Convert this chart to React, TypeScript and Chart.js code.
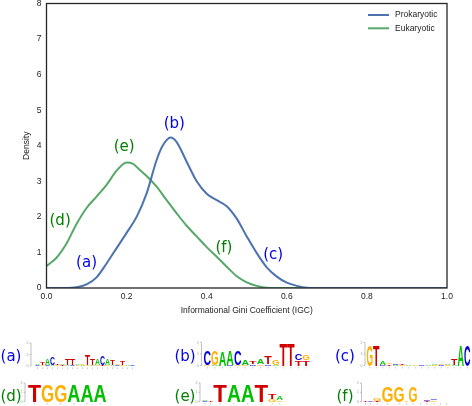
import React, { useEffect, useRef } from "react";
import { Chart, registerables } from "chart.js";

Chart.register(...registerables);

// ---------- data ----------
const prokX = [0.0, 0.05, 0.075, 0.1, 0.125, 0.15, 0.175, 0.2, 0.225, 0.25, 0.275, 0.29, 0.31, 0.325, 0.35, 0.375, 0.4, 0.425, 0.45, 0.475, 0.5, 0.525, 0.55, 0.575, 0.6, 0.625, 0.65, 0.7, 1.0];
const prokY = [0.0, 0.0, 0.02, 0.1, 0.3, 0.69, 1.12, 1.55, 2.0, 2.66, 3.6, 4.0, 4.23, 4.1, 3.55, 3.0, 2.65, 2.47, 2.3, 1.95, 1.45, 0.98, 0.58, 0.32, 0.15, 0.06, 0.01, 0.0, 0.0];

const eukX = [0.0, 0.025, 0.05, 0.075, 0.1, 0.125, 0.15, 0.175, 0.2, 0.215, 0.233, 0.25, 0.275, 0.3, 0.325, 0.35, 0.375, 0.4, 0.425, 0.45, 0.475, 0.5, 0.525, 0.55, 0.6, 1.0];
const eukY = [0.62, 0.85, 1.25, 1.8, 2.25, 2.57, 2.9, 3.3, 3.53, 3.5, 3.32, 3.15, 2.85, 2.47, 2.1, 1.75, 1.45, 1.15, 0.88, 0.6, 0.33, 0.16, 0.06, 0.01, 0.0, 0.0];

const seriesNames = ["Prokaryotic", "Eukaryotic"];
const xTicks = [0, 0.2, 0.4, 0.6, 0.8, 1.0];
const yTicks = [0, 1, 2, 3, 4, 5, 6, 7, 8];

// annotation labels: [text, x, y, series index]
const annotations: [string, number, number, number][] = [
  ["(a)", 0.1, 0.69, 0],
  ["(b)", 0.319, 4.6, 0],
  ["(c)", 0.566, 0.93, 0],
  ["(d)", 0.034, 1.89, 1],
  ["(e)", 0.194, 3.97, 1],
  ["(f)", 0.443, 1.12, 1],
];

// sequence logos: columns of [base, bits] stacked bottom -> top
type Col = [string, number][];
const logoA: Col[] = [
  [["C", 0.09], ["A", 0.09]],
  [["G", 0.09], ["T", 0.26]],
  [["C", 0.09], ["A", 0.6]],
  [["A", 0.09], ["C", 0.7]],
  [["G", 0.09], ["T", 0.13]],
  [["T", 0.09], ["A", 0.13]],
  [["A", 0.09], ["T", 0.52]],
  [["C", 0.09], ["T", 0.56]],
  [["G", 0.09], ["A", 0.13]],
  [["A", 0.09], ["G", 0.13]],
  [["G", 0.09], ["T", 0.87]],
  [["A", 0.09], ["T", 0.6]],
  [["G", 0.09], ["A", 0.6]],
  [["T", 0.09], ["C", 0.78]],
  [["G", 0.09], ["A", 0.52]],
  [["A", 0.09], ["T", 0.43]],
  [["C", 0.09], ["G", 0.13]],
  [["G", 0.09], ["T", 0.35]],
  [["A", 0.09]],
  [["C", 0.07]],
];
const logoB: Col[] = [
  [["G", 0.08], ["C", 1.22]],
  [["A", 0.06], ["G", 1.22]],
  [["A", 1.22]],
  [["C", 0.06], ["A", 1.22]],
  [["G", 0.06], ["C", 1.22]],
  [["G", 0.08], ["A", 0.5]],
  [["C", 0.1], ["T", 0.25]],
  [["G", 0.1], ["A", 0.45]],
  [["C", 0.1], ["T", 0.7]],
  [["A", 0.06], ["G", 0.45]],
  [["T", 1.9]],
  [["T", 1.9]],
  [["T", 0.45], ["C", 0.52]],
  [["T", 0.5], ["G", 0.45]],
];
const logoC: Col[] = [
  [["G", 1.83]],
  [["T", 1.78]],
  [["C", 0.08], ["A", 0.35]],
  [["T", 0.1], ["G", 0.15]],
  [["A", 0.08], ["C", 0.15]],
  [["G", 0.08], ["T", 0.12]],
  [["A", 0.06]],
  [["G", 0.06]],
  [["C", 0.06]],
  [["A", 0.06]],
  [["G", 0.08], ["A", 0.08]],
  [["C", 0.06], ["G", 0.1]],
  [["G", 0.08], ["A", 0.1]],
  [["A", 0.06], ["T", 0.62]],
  [["A", 1.85]],
  [["C", 1.85]],
];
const logoD: Col[] = [
  [["T", 1.9]],
  [["G", 1.9]],
  [["G", 1.9]],
  [["A", 1.9]],
  [["A", 1.9]],
  [["A", 1.9]],
];
const logoE: Col[] = [
  [["C", 0.08], ["A", 0.06]],
  [["T", 0.16]],
  [["T", 1.8]],
  [["A", 1.8]],
  [["A", 1.8]],
  [["T", 1.8]],
  [["G", 0.25], ["T", 0.55]],
  [["G", 0.18], ["A", 0.4]],
];
const logoF: Col[] = [
  [["T", 0.1]],
  [["C", 0.06]],
  [["T", 0.08], ["G", 0.3]],
  [["G", 1.75]],
  [["G", 1.75]],
  [["G", 0.16]],
  [["G", 1.75]],
  [["A", 0.05]],
  [["T", 0.1], ["C", 0.1]],
  [["G", 0.12], ["C", 0.08]],
  [["A", 0.05]],
  [["C", 0.05]],
];

// ---------- styles / layout ----------
const LINE_COLORS = ["#4c72b0", "#55a868"];
const LABEL_COLORS = ["#0000ee", "#008000"];
const BASE_COLORS: Record<string, string> = { A: "#00c000", C: "#0000d8", G: "#ffb000", T: "#d00000" };
const TEXT = "#222222";
const TICK_FONT = "Liberation Sans";

type LogoLayout = { label: string; color: string; lx: number; ly: number; axisX: number; x: number; base: number; pxPerBit: number; widths: number | number[]; data: Col[] };
const logos: LogoLayout[] = [
  { label: "(a)", color: LABEL_COLORS[0], lx: 11, ly: 356, axisX: 31, x: 35, base: 366, pxPerBit: 11.5, widths: 5, data: logoA },
  { label: "(b)", color: LABEL_COLORS[0], lx: 185, ly: 356, axisX: 201.5, x: 203.5, base: 365.5, pxPerBit: 11.5, widths: 7.6, data: logoB },
  { label: "(c)", color: LABEL_COLORS[0], lx: 345, ly: 356, axisX: 365, x: 366.5, base: 365.5, pxPerBit: 11.5, widths: 6.5, data: logoC },
  { label: "(d)", color: LABEL_COLORS[1], lx: 11, ly: 396, axisX: 25, x: 28, base: 401.5, pxPerBit: 9.25, widths: 13.1, data: logoD },
  { label: "(e)", color: LABEL_COLORS[1], lx: 185, ly: 396, axisX: 200, x: 202, base: 401.5, pxPerBit: 9.25, widths: [6, 5.3, 13.6, 14, 13.6, 13.6, 8.4, 6.5], data: logoE },
  { label: "(f)", color: LABEL_COLORS[1], lx: 345, ly: 396, axisX: 361.5, x: 363, base: 401.5, pxPerBit: 9.25, widths: [5, 5, 8.5, 12, 11, 4, 9, 6, 7, 7, 6, 6], data: logoF },
];

function Logo({ L }: { L: LogoLayout }) {
  const F = 20;
  const cap = 0.716 * F;
  const items: React.ReactNode[] = [];
  let cx = L.x;
  L.data.forEach((col, i) => {
    const w = Array.isArray(L.widths) ? L.widths[i] : L.widths;
    let y = L.base;
    col.forEach(([b, bits], j) => {
      const h = bits * L.pxPerBit;
      items.push(
        <text
          key={`${i}-${j}`}
          x={0}
          y={0}
          fontSize={F}
          fontFamily="Liberation Sans, Arial, sans-serif"
          fontWeight="bold"
          fill={BASE_COLORS[b]}
          textLength={w}
          lengthAdjust="spacingAndGlyphs"
          transform={`translate(${cx},${y}) scale(1,${h / cap})`}
        >
          {b}
        </text>
      );
      y -= h;
    });
    items.push(<line key={`t${i}`} x1={cx + w / 2} x2={cx + w / 2} y1={L.base + 1.5} y2={L.base + 3} stroke="#aaa" strokeWidth={0.6} />);
    cx += w;
  });
  const top = L.base - 2 * L.pxPerBit;
  return (
    <g>
      <text x={L.lx} y={L.ly} fontFamily="DejaVu Sans" fontSize={15} fill={L.color} textAnchor="middle" dominantBaseline="central">
        {L.label}
      </text>
      <line x1={L.axisX} x2={L.axisX} y1={top} y2={L.base} stroke="#999" strokeWidth={0.6} />
      {[0, 1, 2].map((k) => (
        <g key={k}>
          <line x1={L.axisX - 1.5} x2={L.axisX} y1={L.base - k * L.pxPerBit} y2={L.base - k * L.pxPerBit} stroke="#999" strokeWidth={0.6} />
          <text x={L.axisX - 2.5} y={L.base - k * L.pxPerBit + 1.2} fontSize={3.5} fill="#999" textAnchor="end" fontFamily="Liberation Sans">
            {k}
          </text>
        </g>
      ))}
      {items}
    </g>
  );
}

const decorPlugin = {
  id: "decor",
  afterDraw(chart: any) {
    const ctx = chart.ctx as CanvasRenderingContext2D;
    const a = chart.chartArea;
    const xs = chart.scales.x;
    const ys = chart.scales.y;
    ctx.save();
    // frame
    ctx.strokeStyle = "#262626";
    ctx.lineWidth = 1.3;
    ctx.strokeRect(a.left, a.top, a.right - a.left, a.bottom - a.top);
    // axis titles
    ctx.fillStyle = TEXT;
    ctx.font = `8.5px "${TICK_FONT}"`;
    ctx.textAlign = "center";
    ctx.textBaseline = "middle";
    ctx.fillText("Informational Gini Coefficient (IGC)", (a.left + a.right) / 2, 311);
    ctx.save();
    ctx.translate(27, (a.top + a.bottom) / 2);
    ctx.rotate(-Math.PI / 2);
    ctx.fillText("Density", 0, 0);
    ctx.restore();
    // legend
    ctx.textAlign = "left";
    seriesNames.forEach((name, i) => {
      const y = 15 + i * 13.3;
      ctx.strokeStyle = LINE_COLORS[i];
      ctx.lineWidth = 2;
      ctx.beginPath();
      ctx.moveTo(a.right - 79, y);
      ctx.lineTo(a.right - 58, y);
      ctx.stroke();
      ctx.fillStyle = TEXT;
      ctx.fillText(name, a.right - 52, y);
    });
    // annotations
    ctx.font = `15px "DejaVu Sans"`;
    ctx.textAlign = "center";
    annotations.forEach(([t, x, y, s]) => {
      ctx.fillStyle = LABEL_COLORS[s];
      ctx.fillText(t, xs.getPixelForValue(x), ys.getPixelForValue(y));
    });
    ctx.restore();
  },
};

export default function App() {
  const ref = useRef<HTMLCanvasElement | null>(null);
  useEffect(() => {
    if (!ref.current) return;
    const mk = (xsArr: number[], ysArr: number[]) => xsArr.map((x, i) => ({ x, y: ysArr[i] }));
    const chart = new Chart(ref.current, {
      type: "line",
      data: {
        datasets: [
          { label: seriesNames[0], data: mk(prokX, prokY), borderColor: LINE_COLORS[0], borderWidth: 2, pointRadius: 0, cubicInterpolationMode: "monotone", fill: false },
          { label: seriesNames[1], data: mk(eukX, eukY), borderColor: LINE_COLORS[1], borderWidth: 2, pointRadius: 0, cubicInterpolationMode: "monotone", fill: false },
        ],
      },
      options: {
        responsive: false,
        animation: false,
        layout: { padding: { left: 0, right: 25, top: 3.5, bottom: 0 } },
        plugins: { legend: { display: false }, tooltip: { enabled: false } },
        scales: {
          x: {
            type: "linear",
            min: 0,
            max: 1,
            afterBuildTicks: (s: any) => { s.ticks = xTicks.map((v) => ({ value: v })); },
            afterFit: (s: any) => { s.height = 27; s.paddingLeft = 0; s.paddingRight = 0; },
            ticks: { padding: 4, color: TEXT, font: { family: TICK_FONT, size: 8.5 }, maxRotation: 0, autoSkip: false, callback: (v: any) => Number(v).toFixed(1) },
            grid: { display: false, drawTicks: false },
            border: { display: false },
          },
          y: {
            min: 0,
            max: 8,
            afterBuildTicks: (s: any) => { s.ticks = yTicks.map((v) => ({ value: v })); },
            afterFit: (s: any) => { s.width = 46.5; s.paddingTop = 0; s.paddingBottom = 0; },
            ticks: { padding: 5, color: TEXT, font: { family: TICK_FONT, size: 8.5 }, callback: (v: any) => String(v) },
            grid: { display: false, drawTicks: false },
            border: { display: false },
          },
        },
      },
      plugins: [decorPlugin],
    } as any);
    return () => chart.destroy();
  }, []);
  return (
    <div style={{ position: "absolute", left: 0, top: 0, width: 472, height: 406, background: "#fff" }}>
      <canvas ref={ref} width={472} height={315} style={{ position: "absolute", left: 0, top: 0 }} />
      <svg width={472} height={406} style={{ position: "absolute", left: 0, top: 0, pointerEvents: "none" }}>
        {logos.map((L, i) => (
          <Logo key={i} L={L} />
        ))}
      </svg>
    </div>
  );
}
